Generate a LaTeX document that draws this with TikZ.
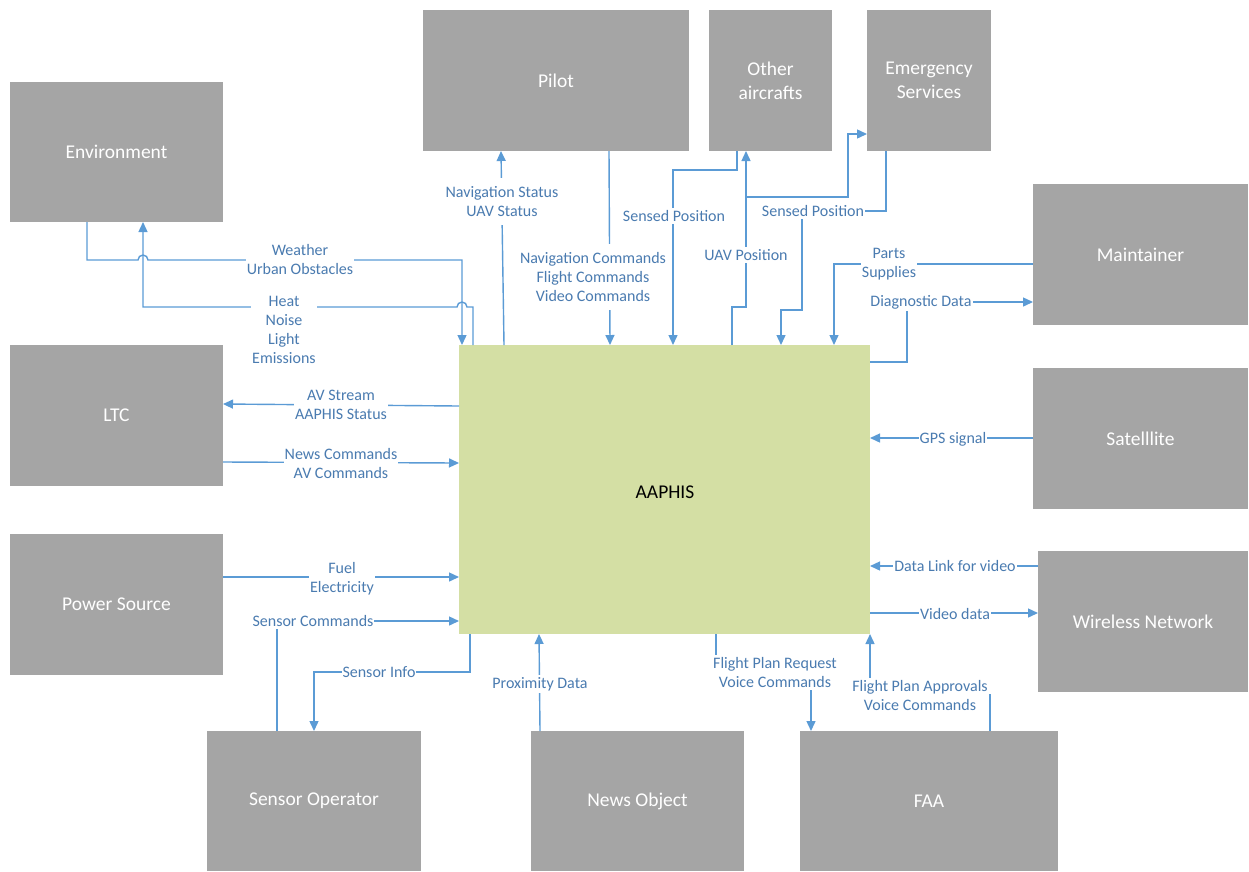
\documentclass[tikz,border=0pt]{standalone}
\usepackage{fontspec}
\setmainfont{Carlito}
\usetikzlibrary{arrows.meta}
\definecolor{boxgray}{HTML}{A5A5A5}
\definecolor{sysgreen}{HTML}{D4DFA4}
\definecolor{linkblue}{HTML}{5B9BD5}
\definecolor{lbltext}{HTML}{4A7BB0}
\tikzset{
  ext/.style={fill=boxgray, draw=none, inner sep=0pt, outer sep=0pt, text=white, align=center,
    font=\fontsize{19.5}{24}\selectfont},
  sys/.style={fill=sysgreen, draw=none, inner sep=0pt, outer sep=0pt, text=black,
    font=\fontsize{19.5}{24}\selectfont},
  conn/.style={draw=linkblue, line width=1.4pt, -{Triangle[length=10pt,width=9pt]}},
  plain/.style={draw=linkblue, line width=1.4pt},
  lbl/.style={fill=white, text=lbltext, align=center, inner xsep=1pt, inner ysep=2pt,
    font=\fontsize{16}{19}\selectfont},
}
\begin{document}
\begin{tikzpicture}[x=1pt,y=-1pt]
\useasboundingbox (0,0) rectangle (1249,871);
% boxes
\node[ext, minimum width=213pt, minimum height=140pt] (env) at (116.5,152) {Environment};
\node[ext, minimum width=266pt, minimum height=141pt] (pilot) at (556,80.5) {Pilot};
\node[ext, minimum width=123pt, minimum height=141pt] (other) at (770.5,80.5) {Other\\aircrafts};
\node[ext, minimum width=124pt, minimum height=141pt] (emerg) at (929,80.5) {Emergency\\Services};
\node[ext, minimum width=215pt, minimum height=141pt] (maint) at (1140.5,254.5) {Maintainer};
\node[ext, minimum width=213pt, minimum height=141pt] (ltc) at (116.5,415.5) {LTC};
\node[ext, minimum width=215pt, minimum height=141pt] (sat) at (1140.5,438.5) {Satelllite};
\node[ext, minimum width=213pt, minimum height=141pt] (power) at (116.5,604.5) {Power Source};
\node[ext, minimum width=210pt, minimum height=141pt] (wireless) at (1143,621.5) {Wireless Network};
\node[ext, minimum width=214pt, minimum height=140pt] (sensor) at (314,801) {Sensor Operator};
\node[ext, minimum width=213pt, minimum height=140pt] (news) at (637.5,801) {News Object};
\node[ext, minimum width=258pt, minimum height=140pt] (faa) at (929,801) {FAA};
\node[sys, minimum width=411pt, minimum height=289pt] (a) at (664.5,489.5) {};
\node[sys, fill=none] (atext) at (665,492) {AAPHIS};

% connectors
\draw[conn] (env.south -| 87,0) |- (138,260) arc[start angle=180,end angle=0,radius=5pt] -| (a.north -| 462,0);
\draw[conn] (a.north -| 473,0) |- (467,307) arc[start angle=0,end angle=180,radius=5pt] -| (env.south -| 143,0);
\draw[conn] (a.north -| 504,0) -- (pilot.south -| 501,0);
\draw[conn] (pilot.south -| 609,0) -- (a.north -| 610,0);
\draw[conn] (other.south -| 737,0) |- (673,170) -- (a.north -| 673,0);
\draw[conn] (a.north -| 732,0) |- (746,307) -- (other.south -| 746,0);
\coordinate (br) at (746,197);
\draw[conn] (br) -| (848,134) -- (emerg.west |- 0,134);
\draw[conn] (emerg.south -| 886,0) |- (802,211) |- (781,310) -- (a.north -| 781,0);
\draw[conn] (maint.west |- 0,264) -| (a.north -| 834,0);
\draw[conn] (a.east |- 0,362) -| (907,302) -- (maint.west |- 0,302);
\draw[conn] (a.west |- 0,406) -- (ltc.east |- 0,404);
\draw[conn] (ltc.east |- 0,462) -- (a.west |- 0,463);
\draw[conn] (sat.west |- 0,438) -- (a.east |- 0,438);
\draw[conn] (power.east |- 0,577) -- (a.west |- 0,577);
\draw[conn] (sensor.north -| 277,0) |- (a.west |- 0,621);
\draw[conn] (a.south -| 470,0) |- (314,672) -- (sensor.north -| 314,0);
\draw[conn] (news.north -| 540,0) -- (a.south -| 539,0);
\draw[conn] (a.south -| 716,0) |- (811,672) -- (faa.north -| 811,0);
\draw[conn] (faa.north -| 990,0) |- (870,695) -- (a.south -| 870,0);
\draw[conn] (wireless.west |- 0,566) -- (a.east |- 0,566);
\draw[conn] (a.east |- 0,613) -- (wireless.west |- 0,613);

% labels
\node[lbl] (l1) at (300,259.5) {Weather\\Urban Obstacles};
\node[lbl] (l2) at (284,329.5) {Heat\\Noise\\Light\\Emissions};
\node[lbl, inner ysep=8pt] (l3) at (502,201.5) {Navigation Status\\UAV Status};
\node[lbl, inner ysep=8pt] (l4) at (593,277) {Navigation Commands\\Flight Commands\\Video Commands};
\node[lbl] (l5) at (674,216) {Sensed Position};
\node[lbl] (l6) at (746,255) {UAV Position};
\node[lbl] (l7) at (813,211) {Sensed Position};
\node[lbl] (l8) at (889,264) {Parts\\Supplies};
\node[lbl] (l9) at (921,302) {Diagnostic Data};
\node[lbl] (l10) at (341,405) {AV Stream\\AAPHIS Status};
\node[lbl] (l11) at (341,463.5) {News Commands\\AV Commands};
\node[lbl] (l12) at (953,439) {GPS signal};
\node[lbl] (l13) at (342,578.5) {Fuel\\Electricity};
\node[lbl] (l14) at (313,621) {Sensor Commands};
\node[lbl] (l15) at (379,672) {Sensor Info};
\node[lbl] (l16) at (540,684) {Proximity Data};
\node[lbl] (l17) at (775,672.5) {Flight Plan Request\\Voice Commands};
\node[lbl] (l18) at (920,695.5) {Flight Plan Approvals\\Voice Commands};
\node[lbl] (l19) at (955,566) {Data Link for video};
\node[lbl] (l20) at (955,614) {Video data};
\end{tikzpicture}
\end{document}
